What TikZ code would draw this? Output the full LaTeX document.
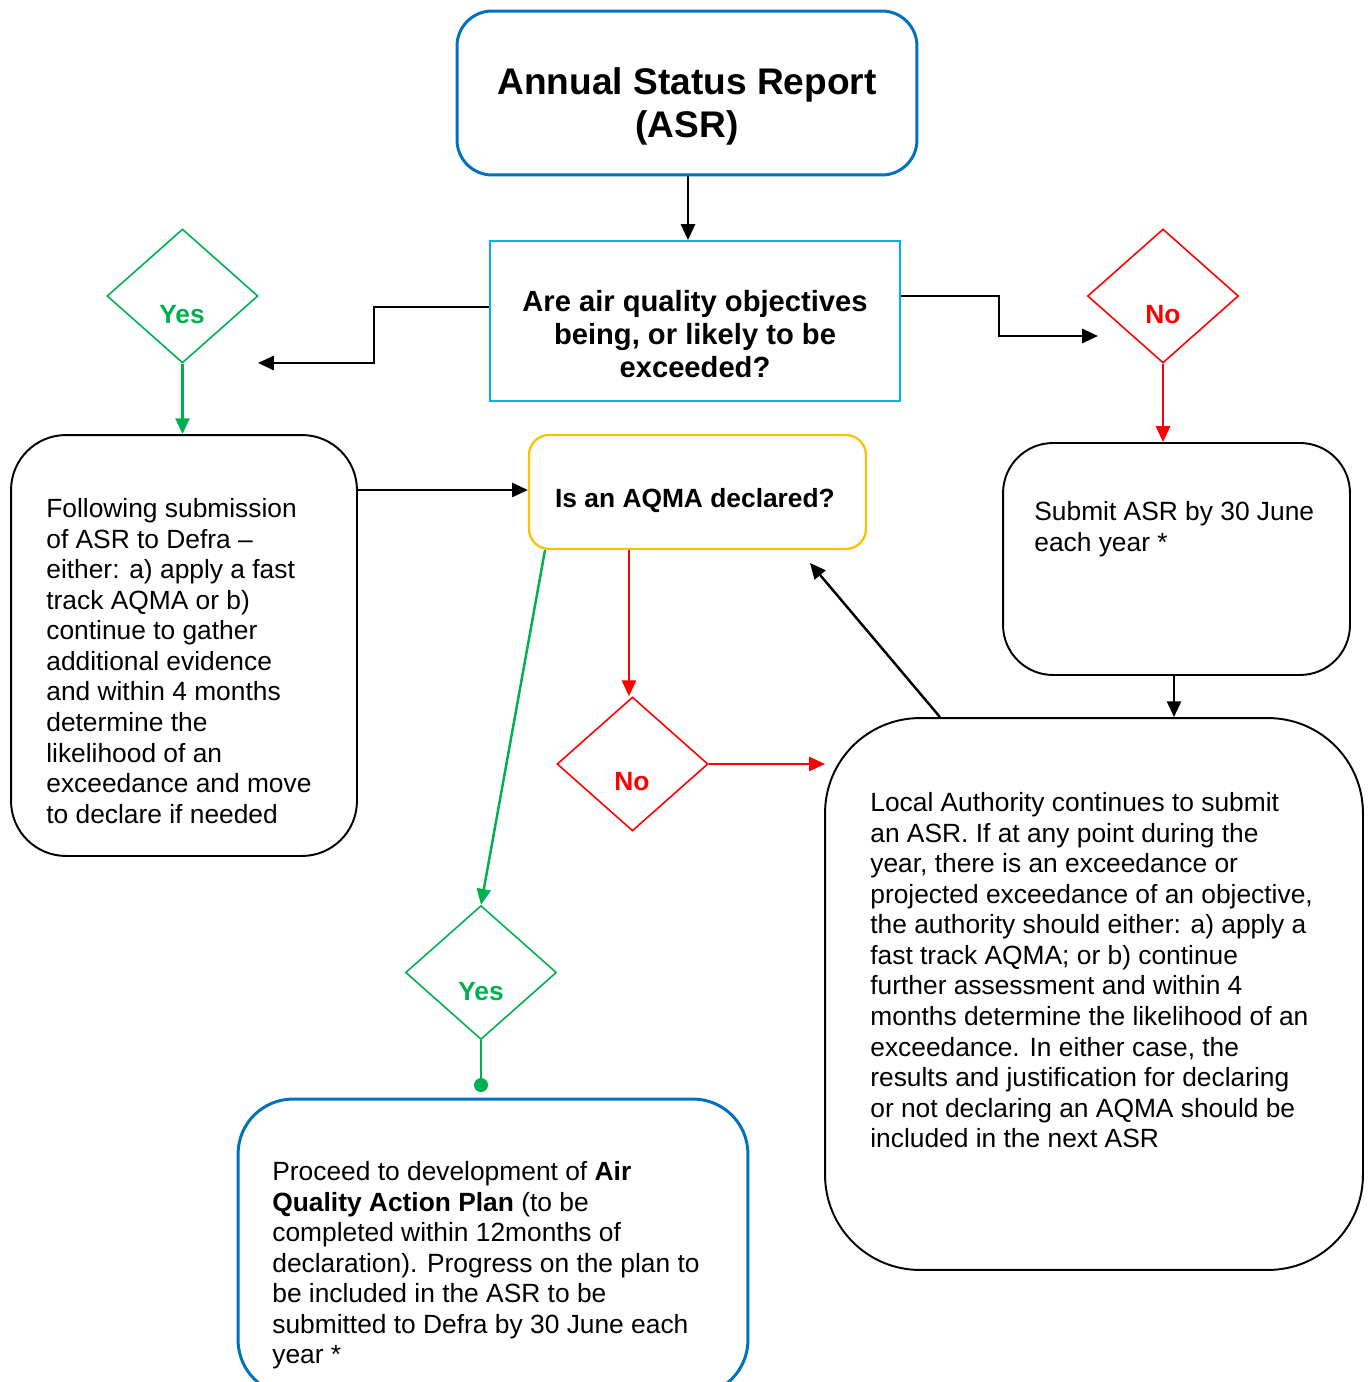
\documentclass[tikz,border=0pt]{standalone}
\usepackage{fontspec}
\setmainfont{Liberation Sans}
\usetikzlibrary{shapes.geometric,arrows.meta}
\definecolor{asrblue}{RGB}{0,112,192}
\definecolor{qcyan}{RGB}{0,176,240}
\definecolor{ayellow}{RGB}{255,192,0}
\definecolor{dgreen}{RGB}{0,176,80}
\definecolor{dred}{RGB}{255,0,0}
\tikzset{
  boxshape/.style={draw, rectangle, inner sep=0pt},
  dia/.style={draw, diamond, inner sep=0pt, minimum width=3.02cm, minimum height=2.68cm, line width=0.9pt},
  body/.style={inner sep=0pt, anchor=north west, align=left, font=\fontsize{15}{17.4}\selectfont},
  ans/.style={inner sep=0pt, font=\fontsize{15}{17}\selectfont\bfseries},
  conn/.style={line width=1.4pt, -{Triangle[length=9pt,width=8pt]}},
}
\begin{document}
\begin{tikzpicture}[x=0.02cm,y=-0.02cm]
\useasboundingbox (0,0) rectangle (1367,1382);
\clip (0,0) rectangle (1367,1382);
% boxes
\node[boxshape, draw=asrblue, line width=1.7pt, rounded corners=0.7cm, minimum width=9.2cm, minimum height=3.28cm] (asr) at (687,93) {};
\node[font=\fontsize{21.1}{24.5}\selectfont\bfseries, align=center, inner sep=0pt] (asrt) at (687,106) {Annual Status Report\\(ASR)};
\node[boxshape, draw=qcyan, line width=1.1pt, minimum width=8.2cm, minimum height=3.2cm] (q) at (695,321) {};
\node[font=\fontsize{16.6}{19}\selectfont\bfseries, align=center, inner sep=0pt] (qt) at (695,334) {Are air quality objectives\\being, or likely to be\\exceeded?};
\node[boxshape, draw=ayellow, line width=1.3pt, rounded corners=0.4cm, minimum width=6.74cm, minimum height=2.28cm] (aqma) at (697.5,492) {};
\node[font=\fontsize{15}{17}\selectfont\bfseries, inner sep=0pt] (aqmat) at (695,501) {Is an AQMA declared?};
\node[boxshape, draw=black, line width=1.1pt, rounded corners=1.1cm, minimum width=6.92cm, minimum height=8.42cm] (lbox) at (184,645.5) {};
\node[body] (lboxt) at (46,498) {Following submission\\of ASR to Defra –\\either: a) apply a fast\\track AQMA or b)\\continue to gather\\additional evidence\\and within 4 months\\determine the\\likelihood of an\\exceedance and move\\to declare if needed};
\node[boxshape, draw=black, line width=1.1pt, rounded corners=1.0cm, minimum width=6.94cm, minimum height=4.64cm] (rtop) at (1176.5,559) {};
\node[body] (rtopt) at (1034,501) {Submit ASR by 30 June\\each year *};
\node[boxshape, draw=black, line width=1.1pt, rounded corners=1.9cm, minimum width=10.76cm, minimum height=11.04cm] (big) at (1094,994) {};
\node[body] (bigt) at (870,792) {Local Authority continues to submit\\an ASR. If at any point during the\\year, there is an exceedance or\\projected exceedance of an objective,\\the authority should either: a) apply a\\fast track AQMA; or b) continue\\further assessment and within 4\\months determine the likelihood of an\\exceedance. In either case, the\\results and justification for declaring\\or not declaring an AQMA should be\\included in the next ASR};
\node[boxshape, draw=asrblue, line width=1.7pt, rounded corners=1.1cm, minimum width=10.2cm, minimum height=5.92cm] (plan) at (493,1247) {};
\node[body] (plant) at (272,1161) {Proceed to development of \textbf{Air}\\\textbf{Quality Action Plan} (to be\\completed within 12months of\\declaration). Progress on the plan to\\be included in the ASR to be\\submitted to Defra by 30 June each\\year *};
% diamonds
\node[dia, draw=dgreen] (yes1) at (182.5,296) {};
\node[ans, text=dgreen] (yes1t) at (182,315) {Yes};
\node[dia, draw=dred] (no1) at (1163,296) {};
\node[ans, text=dred] (no1t) at (1163,315) {No};
\node[dia, draw=dred] (no2) at (632.5,764) {};
\node[ans, text=dred] (no2t) at (632,782) {No};
\node[dia, draw=dgreen] (yes2) at (481,972.5) {};
\node[ans, text=dgreen] (yes2t) at (481,992) {Yes};
% free ends
\coordinate (yesin) at (258,363);
\coordinate (noin) at (1098,336);
\coordinate (bigin) at (825,764);
\coordinate (dot) at (481,1085);
\coordinate (aqmain) at (810,563);
% connectors
\draw[conn] (asr.south -| 688,0) -- (q.north -| 688,0);
\draw[conn] (q.west |- 0,307) -- (374,307) |- (yesin);
\draw[conn] (q.east |- 0,296) -- (999,296) |- (noin);
\draw[conn, draw=dgreen, fill=dgreen] (yes1.south) -- (lbox.north -| yes1.south);
\draw[conn, draw=dred, fill=dred] (no1.south) -- (rtop.north -| no1.south);
\draw[conn] (lbox.east |- 0,490) -- (aqma.west |- 0,490);
\draw[conn, draw=dred, fill=dred] (aqma.south -| 629,0) -- (no2.north -| 629,0);
\draw[conn, draw=dred, fill=dred] (no2.east) -- (bigin);
\draw[conn, draw=dgreen, fill=dgreen] (aqma.south -| 545,0) -- (yes2.north);
\draw[line width=1.4pt, draw=dgreen] (yes2.south) -- (dot);
\fill[dgreen] (dot) circle (7);
\draw[conn] (rtop.south -| 1174,0) -- (big.north -| 1174,0);
\draw[conn] (big.north -| 940,0) -- (aqmain);
\end{tikzpicture}
\end{document}
